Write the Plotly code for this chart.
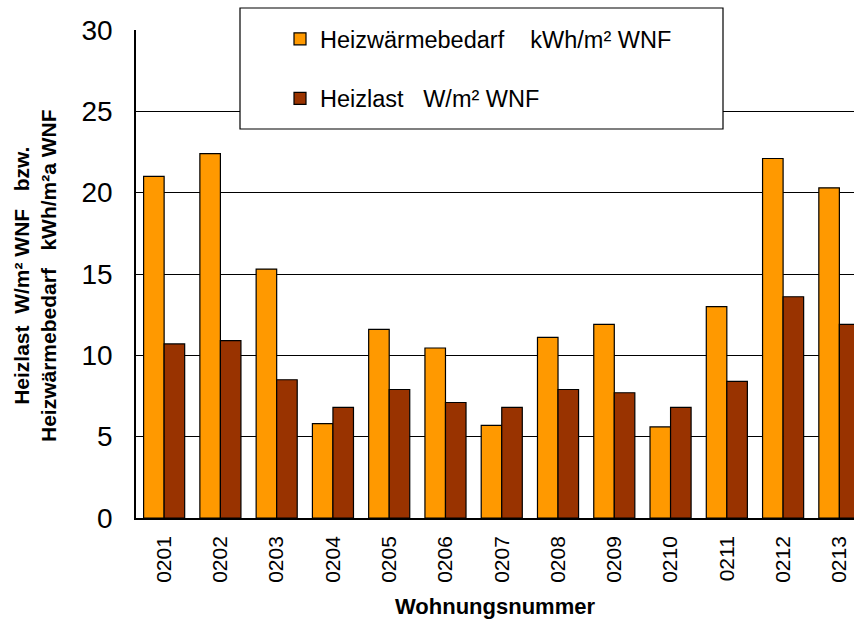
import plotly.graph_objects as go

categories = ["0201", "0202", "0203", "0204", "0205", "0206", "0207",
              "0208", "0209", "0210", "0211", "0212", "0213"]
heizwaerme = [21.0, 22.4, 15.3, 5.8, 11.6, 10.45, 5.7, 11.1, 11.9, 5.6, 13.0, 22.1, 20.3]
heizlast = [10.7, 10.9, 8.5, 6.8, 7.9, 7.1, 6.8, 7.9, 7.7, 6.8, 8.4, 13.6, 11.9]
y_ticks = [0, 5, 10, 15, 20, 25, 30]

NB = "\u00a0"
fig = go.Figure()
fig.add_trace(go.Bar(x=categories, y=heizwaerme,
                     name="Heizwärmebedarf" + NB * 4 + "kWh/m² WNF",
                     marker=dict(color="#FF9900", line=dict(color="#000000", width=1.2))))
fig.add_trace(go.Bar(x=categories, y=heizlast,
                     name="Heizlast" + NB * 3 + "W/m² WNF",
                     marker=dict(color="#993300", line=dict(color="#000000", width=1.2))))

font_family = "Liberation Sans, Arial, sans-serif"

fig.update_layout(
    width=854, height=619,
    margin=dict(l=136, r=0, t=30, b=101, autoexpand=False),
    paper_bgcolor="white", plot_bgcolor="white",
    barmode="group", bargap=0.27, bargroupgap=0,
    font=dict(family=font_family, color="black"),
    showlegend=True,
    legend=dict(x=(280 - 136) / 718, y=(518 - 17) / 488, xanchor="left", yanchor="top",
                bgcolor="rgba(0,0,0,0)", borderwidth=0,
                font=dict(size=23.5, family=font_family, color="black"),
                tracegroupgap=26, traceorder="grouped",
                itemwidth=30),
    xaxis=dict(range=[-0.5, 12.26], showgrid=False, showline=True, linecolor="black",
               linewidth=1.5, ticks="", tickangle=-90, automargin=False,
               tickfont=dict(size=21, family=font_family, color="black"),
               ticklabelstandoff=8, fixedrange=True),
    yaxis=dict(range=[0, 30], tickvals=y_ticks, showgrid=True, gridcolor="#000000",
               gridwidth=1, showline=True, linecolor="black", linewidth=1.5,
               ticks="", tickfont=dict(size=28, family=font_family, color="black"),
               ticklabelstandoff=16, zeroline=False, automargin=False, fixedrange=True),
    shapes=[dict(type="rect", xref="paper", yref="paper",
                 x0=(240 - 136) / 718, x1=(723 - 136) / 718,
                 y0=(518 - 129) / 488, y1=(518 - 8) / 488,
                 fillcolor="white", line=dict(color="black", width=1.2), layer="above")],
    annotations=[
        dict(text="<b>Heizlast" + NB * 2 + "W/m² WNF" + NB * 3 + "bzw.</b><br><b>Heizwärmebedarf" + NB * 3 + "kWh/m²a WNF</b>",
             xref="paper", yref="paper", x=(35 - 136) / 718, y=(518 - 276) / 488,
             xanchor="center", yanchor="middle", textangle=-90, showarrow=False,
             font=dict(size=21, family=font_family, color="black")),
        dict(text="<b>Wohnungsnummer</b>", xref="paper", yref="paper",
             x=0.5, y=(518 - 606) / 488, xanchor="center", yanchor="middle",
             showarrow=False, font=dict(size=22, family=font_family, color="black")),
    ],
)
for i, t in enumerate(fig.data):
    t.legendgroup = "g%d" % i

fig.write_html("out.html", config={"displayModeBar": False},
               post_script="document.body.style.margin='0';document.body.style.overflow='hidden';")
